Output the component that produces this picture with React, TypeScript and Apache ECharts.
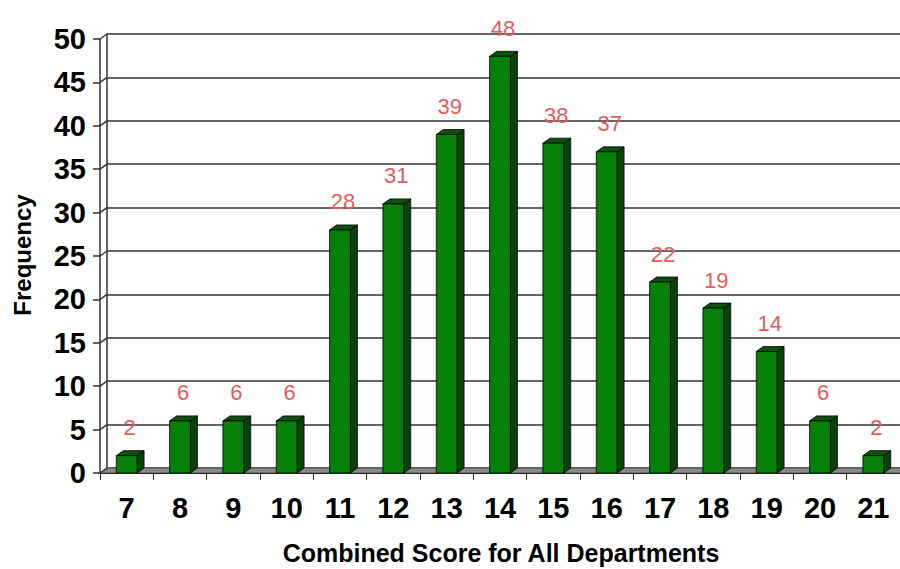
import React, { useEffect, useRef } from "react";
import * as echarts from "echarts";

const categories = ["7", "8", "9", "10", "11", "12", "13", "14", "15", "16", "17", "18", "19", "20", "21"];
const frequencies = [2, 6, 6, 6, 28, 31, 39, 48, 38, 37, 22, 19, 14, 6, 2];
const yTicks = [0, 5, 10, 15, 20, 25, 30, 35, 40, 45, 50];

const DX = 7;
const DY = 5;
const FONT = '"Liberation Sans", Arial, sans-serif';

export default function App() {
  const ref = useRef<HTMLDivElement>(null);
  useEffect(() => {
    const chart = echarts.init(ref.current as HTMLDivElement, null, { renderer: "svg" });
    const option: any = {
      animation: false,
      backgroundColor: "#ffffff",
      grid: [
        { left: 100, top: 39, width: 804, height: 434 },
        { left: 107, top: 34, width: 804, height: 434 },
      ],
      xAxis: [
        {
          gridIndex: 0,
          type: "category",
          data: categories,
          axisLine: { show: true, lineStyle: { color: "#222", width: 1 } },
          axisTick: { show: true, length: 7, lineStyle: { color: "#222", width: 1 } },
          axisLabel: { fontFamily: FONT, fontWeight: "bold", fontSize: 29, color: "#000", margin: 20 },
          splitLine: { show: false },
          z: 5,
        },
        { gridIndex: 1, type: "category", data: categories, show: false },
      ],
      yAxis: [
        {
          gridIndex: 0,
          type: "value",
          min: 0,
          max: 50,
          interval: 5,
          axisLine: { show: true, lineStyle: { color: "#333", width: 1.5 } },
          axisTick: { show: true, length: 7, lineStyle: { color: "#333", width: 1.5 } },
          axisLabel: { fontFamily: FONT, fontWeight: "bold", fontSize: 29, color: "#000", margin: 14 },
          splitLine: { show: false },
        },
        {
          gridIndex: 1,
          type: "value",
          min: 0,
          max: 50,
          interval: 5,
          axisLine: { show: true, lineStyle: { color: "#333", width: 1.5 } },
          axisTick: { show: false },
          axisLabel: { show: false },
          splitLine: { show: true, lineStyle: { color: "#333", width: 1.5 } },
        },
      ],
      graphic: [
        {
          type: "text",
          x: 501,
          y: 553,
          style: {
            text: "Combined Score for All Departments",
            fontFamily: FONT,
            fontWeight: "bold",
            fontSize: 25,
            fill: "#000",
            align: "center",
            verticalAlign: "middle",
          },
        },
        {
          type: "text",
          x: 22,
          y: 255,
          rotation: Math.PI / 2,
          style: {
            text: "Frequency",
            fontFamily: FONT,
            fontWeight: "bold",
            fontSize: 24,
            fill: "#000",
            align: "center",
            verticalAlign: "middle",
          },
        },
      ],
      series: [
        {
          type: "custom",
          xAxisIndex: 0,
          yAxisIndex: 0,
          z: 2,
          data: [[0, 0]],
          renderItem: (params: any, api: any) => {
            const p = api.coord([0, 0]);
            const bw = api.size([1, 0])[0];
            const left = p[0] - bw / 2;
            const right = left + bw * categories.length;
            const y = p[1];
            return {
              type: "polygon",
              shape: { points: [[left, y], [right, y], [right + DX, y - DY], [left + DX, y - DY]] },
              style: { fill: "#8a8a8a", stroke: "#555", lineWidth: 1 },
            };
          },
        },
        {
          type: "custom",
          xAxisIndex: 0,
          yAxisIndex: 0,
          z: 2,
          data: yTicks.map((v) => [0, v]),
          renderItem: (params: any, api: any) => {
            const p = api.coord([0, api.value(1)]);
            const bw = api.size([1, 0])[0];
            const lx = p[0] - bw / 2;
            return {
              type: "line",
              shape: { x1: lx, y1: p[1], x2: lx + DX, y2: p[1] - DY },
              style: { stroke: "#333", lineWidth: 1.5 },
            };
          },
        },
        {
          type: "custom",
          xAxisIndex: 0,
          yAxisIndex: 0,
          z: 3,
          data: frequencies.map((v, i) => [i, v]),
          renderItem: (params: any, api: any) => {
            const i = api.value(0);
            const v = api.value(1);
            const c = api.coord([i, v]);
            const base = api.coord([i, 0]);
            const bw = api.size([1, 0])[0];
            const w = bw * 0.39;
            const x0 = c[0] - w / 2;
            const x1 = x0 + w;
            const top = c[1];
            const bottom = base[1];
            return {
              type: "group",
              children: [
                {
                  type: "polygon",
                  shape: { points: [[x1, top], [x1 + DX, top - DY], [x1 + DX, bottom - DY], [x1, bottom]] },
                  style: { fill: "#0a420a", stroke: "#000", lineWidth: 0.8 },
                },
                {
                  type: "polygon",
                  shape: { points: [[x0, top], [x0 + DX, top - DY], [x1 + DX, top - DY], [x1, top]] },
                  style: { fill: "#0b520b", stroke: "#000", lineWidth: 0.8 },
                },
                {
                  type: "rect",
                  shape: { x: x0, y: top, width: w, height: bottom - top },
                  style: { fill: "#078007", stroke: "#000", lineWidth: 0.8 },
                },
                {
                  type: "text",
                  x: c[0] + 3,
                  y: top - 28,
                  style: {
                    text: String(v),
                    fontFamily: FONT,
                    fontSize: 22,
                    fill: "#e25c5c",
                    align: "center",
                    verticalAlign: "middle",
                  },
                },
              ],
            };
          },
        },
      ],
    };
    chart.setOption(option);
    return () => chart.dispose();
  }, []);
  return <div ref={ref} style={{ position: "fixed", left: 0, top: 0, width: 900, height: 569 }} />;
}
